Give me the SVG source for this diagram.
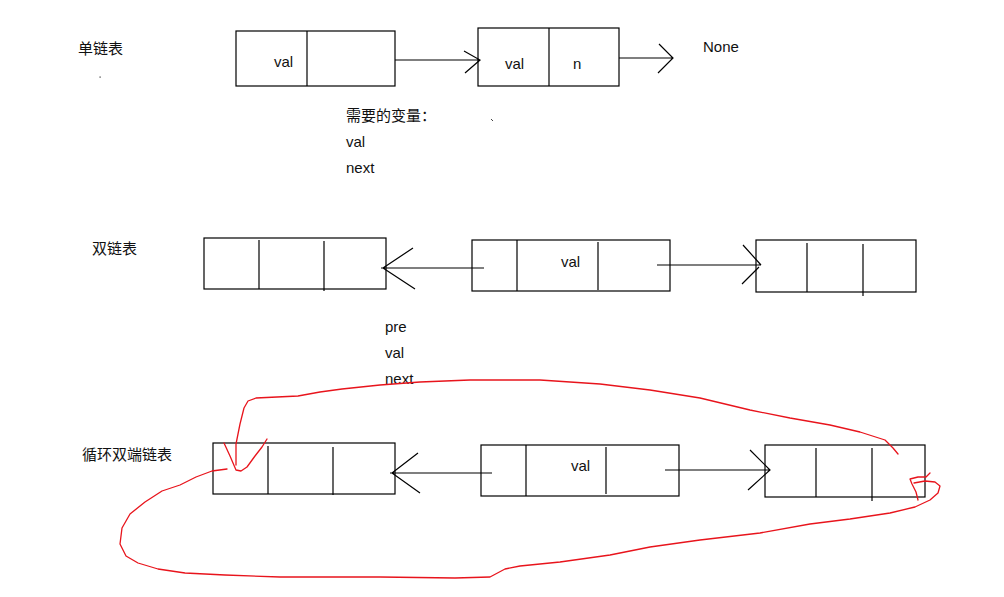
<svg xmlns="http://www.w3.org/2000/svg" width="1004" height="597" viewBox="0 0 1004 597">
<style>
.box{fill:none;stroke:#000;stroke-width:1.2}
.div{stroke:#000;stroke-width:1.2}
.t{font-family:"Liberation Sans","Noto Sans CJK SC",sans-serif;font-size:15px;fill:#111}
.c{font-family:"Noto Sans CJK SC","Liberation Sans",sans-serif;font-size:15px;fill:#111}
.ln{fill:none;stroke:#000;stroke-width:1.2}
.red{fill:none;stroke:#e8141c;stroke-width:1.3;stroke-linejoin:round;stroke-linecap:round}
</style>
<rect width="1004" height="597" fill="#fff"/>
<g id="labels">
<text class="c" x="78" y="54">单链表</text>
<rect x="99.5" y="76.5" width="1.2" height="1.2" fill="#333"/>
<text class="c" x="346" y="121">需要的变量：</text>
<path d="M491 119 L493 121" stroke="#444" stroke-width="1"/>
<text class="t" x="346" y="147">val</text>
<text class="t" x="346" y="173">next</text>
<text class="t" x="703" y="52">None</text>
<text class="c" x="92" y="254">双链表</text>
<text class="t" x="385" y="332">pre</text>
<text class="t" x="385" y="358">val</text>
<text class="t" x="385" y="384">next</text>
<text class="c" x="82" y="460">循环双端链表</text>
</g>
<g id="node-s1">
<rect class="box" x="236" y="31" width="159" height="55"/>
<line class="div" x1="307" y1="31" x2="307" y2="86"/>
<text class="t" x="274" y="67">val</text>
</g>
<g id="node-s2">
<rect class="box" x="478" y="28" width="141" height="58"/>
<line class="div" x1="549" y1="28" x2="549" y2="86"/>
<text class="t" x="505" y="69">val</text>
<text class="t" x="573" y="69">n</text>
</g>
<g id="node-d1">
<rect class="box" x="204" y="238" width="182" height="51"/>
<line class="div" x1="259" y1="240" x2="259" y2="289"/>
<line class="div" x1="324" y1="241" x2="324" y2="291"/>
</g>
<g id="node-d2">
<rect class="box" x="472" y="240" width="198" height="51"/>
<line class="div" x1="517" y1="240" x2="517" y2="291"/>
<line class="div" x1="598" y1="242" x2="598" y2="290"/>
<text class="t" x="561" y="267">val</text>
</g>
<g id="node-d3">
<rect class="box" x="756" y="240" width="160" height="52"/>
<line class="div" x1="807" y1="243" x2="807" y2="292"/>
<line class="div" x1="863" y1="244" x2="863" y2="296"/>
</g>
<g id="node-c1">
<rect class="box" x="213" y="443" width="182" height="51"/>
<line class="div" x1="268" y1="446" x2="268" y2="494"/>
<line class="div" x1="333" y1="447" x2="333" y2="495"/>
</g>
<g id="node-c2">
<rect class="box" x="481" y="445" width="198" height="51"/>
<line class="div" x1="526" y1="445" x2="526" y2="496"/>
<line class="div" x1="606" y1="447" x2="606" y2="494"/>
<text class="t" x="571" y="471">val</text>
</g>
<g id="node-c3">
<rect class="box" x="765" y="445" width="160" height="52"/>
<line class="div" x1="816" y1="448" x2="816" y2="497"/>
<line class="div" x1="872" y1="448" x2="872" y2="501"/>
</g>
<g id="connectors">
<path class="ln" d="M395 60 H480 M464 51 L480 60 L465 73"/>
<path class="ln" d="M619 58 H673 M659 44 L673 58 L658 73"/>
<path class="ln" d="M484 268 H381 M413 248 L383 268 L415 289"/>
<path class="ln" d="M657 265 H761 M743 245 L761 265 M742 284 L759 267"/>
<path class="ln" d="M492 473 H390 M418 453 L392 473 L420 493"/>
<path class="ln" d="M665 470 H770 M750 450 L770 470 L748 490"/>
<path class="red" d="M224 443 L230 456 L236 470 L241 471 L247 467 L255 456 L262 447 L267 439"/>
<path class="red" d="M236 465 L236 444 L240 424 L244 408 L248 401 L256 398 L298 396 L320 392 L342 389 L380 385 L420 382 L470 380 L540 380 L600 384 L650 390 L700 398 L750 410 L790 418 L830 425 L860 432 L885 440 L893 448 L898 454"/>
<path class="red" d="M227 469 L212 471 L196 477 L180 485 L162 491 L145 502 L130 514 L122 528 L120 544 L126 556 L138 563 L158 569 L185 573 L225 575 L280 577 L380 577 L455 578 L490 577 L505 569 L520 566 L560 562 L610 555 L650 547 L700 540 L760 533 L810 524 L850 519 L890 513 L915 507 L930 500 L938 493 L940 486 L935 482 L925 481 L914 483"/>
<path class="red" d="M918 500 L916 492 L912 484 L910 479 L918 477 L926 477 L930 473"/>
</g>
</svg>
